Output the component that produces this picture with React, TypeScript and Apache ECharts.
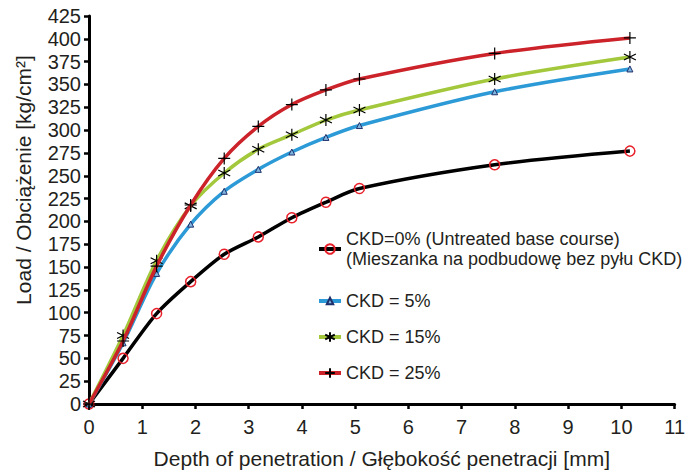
import React, { useEffect, useRef } from "react";
import * as echarts from "echarts";

const depth = [0, 0.64, 1.27, 1.91, 2.54, 3.18, 3.81, 4.45, 5.08, 7.62, 10.16];
const ckd0 = [0, 50, 99, 134, 164, 183, 204, 221, 236, 262, 277];
const ckd5 = [0, 67, 143, 197, 233, 257, 276, 292, 305, 342, 367];
const ckd15 = [0, 75, 157, 217, 253, 279, 295, 311, 322, 356, 380];
const ckd25 = [0, 69, 151, 218, 269, 304, 328, 344, 356, 384, 401];

const names = [
  "CKD=0% (Untreated base course)\n(Mieszanka na podbudowę bez pyłu CKD)",
  "CKD = 5%",
  "CKD = 15%",
  "CKD = 25%",
];

const FONT = "'Liberation Sans', Arial, sans-serif";
const TXT = "#231f20";

const pairs = (ys: number[]) => depth.map((x, i) => [x, ys[i]]);

export default function App() {
  const ref = useRef<HTMLDivElement>(null);
  useEffect(() => {
    document.body.style.margin = "0";
    if (!ref.current) return;
    const chart = echarts.init(ref.current, undefined, { renderer: "svg" });
    const legendTops = [229, 291, 327, 363];
    const legendIconH = [12, 8, 12, 12];
    const legends = names.map((n, i) => ({
      data: [n],
      orient: "vertical",
      left: 317,
      top: legendTops[i],
      padding: 0,
      itemWidth: 22,
      itemHeight: legendIconH[i],
      itemGap: 0,
      selectedMode: false,
      lineStyle: { width: 4 },
      textStyle: { fontSize: 18, lineHeight: 20, color: TXT, fontFamily: FONT },
    }));
    chart.setOption({
      animation: false,
      textStyle: { fontFamily: FONT },
      grid: { left: 89, right: 10, top: 16, bottom: 66, containLabel: false },
      legend: legends,
      xAxis: {
        type: "value",
        min: 0,
        max: 11,
        interval: 1,
        name: "Depth of penetration / Głębokość penetracji [mm]",
        nameLocation: "middle",
        nameGap: 44,
        nameTextStyle: { fontSize: 21, color: TXT, fontFamily: FONT },
        axisLine: { onZero: false, lineStyle: { color: "#000", width: 3 } },
        axisTick: { show: true, length: 5, lineStyle: { color: "#000", width: 2.5 } },
        axisLabel: { fontSize: 20, color: TXT, margin: 13, fontFamily: FONT },
        splitLine: { show: false },
      },
      yAxis: {
        type: "value",
        min: 0,
        max: 425,
        interval: 25,
        axisLine: { show: true, onZero: false, lineStyle: { color: "#000", width: 3 } },
        axisTick: { show: true, length: 5, lineStyle: { color: "#000", width: 2.5 } },
        axisLabel: { fontSize: 20, color: TXT, margin: 8, fontFamily: FONT },
        splitLine: { show: false },
      },
      graphic: [
        {
          type: "text",
          x: 23,
          y: 180,
          rotation: Math.PI / 2,
          style: {
            text: "Load / Obciążenie [kg/cm²]",
            fontSize: 21,
            fontFamily: FONT,
            fill: TXT,
            align: "center",
            verticalAlign: "middle",
          },
        },
      ],
      series: [
        {
          name: names[0],
          type: "line",
          data: pairs(ckd0),
          smooth: 0.3,
          symbol: "circle",
          symbolSize: 10,
          lineStyle: { color: "#000", width: 3.5 },
          itemStyle: { color: "rgba(255,255,255,0)", borderColor: "#e8202a", borderWidth: 1.5 },
          z: 2,
        },
        {
          name: names[1],
          type: "line",
          data: pairs(ckd5),
          smooth: 0.3,
          symbol: "triangle",
          symbolSize: 6,
          lineStyle: { color: "#2c9ad6", width: 3.5 },
          itemStyle: { color: "#7fb6e0", borderColor: "#1f2f6a", borderWidth: 1 },
          z: 3,
        },
        {
          name: names[2],
          type: "line",
          data: pairs(ckd15),
          smooth: 0.3,
          symbol: "path://M0,-1L0,1M-0.87,-0.5L0.87,0.5M-0.87,0.5L0.87,-0.5",
          symbolSize: 12,
          lineStyle: { color: "#a3c83c", width: 3.5 },
          itemStyle: { color: "none", borderColor: "#000", borderWidth: 1.2 },
          z: 4,
        },
        {
          name: names[3],
          type: "line",
          data: pairs(ckd25),
          smooth: 0.3,
          symbol: "path://M0,-1L0,1M-1,0L1,0",
          symbolSize: 12,
          lineStyle: { color: "#cc2229", width: 3.5 },
          itemStyle: { color: "none", borderColor: "#000", borderWidth: 1.2 },
          z: 5,
        },
      ],
    });
    return () => chart.dispose();
  }, []);
  return <div ref={ref} style={{ width: 688, height: 474 }} />;
}
